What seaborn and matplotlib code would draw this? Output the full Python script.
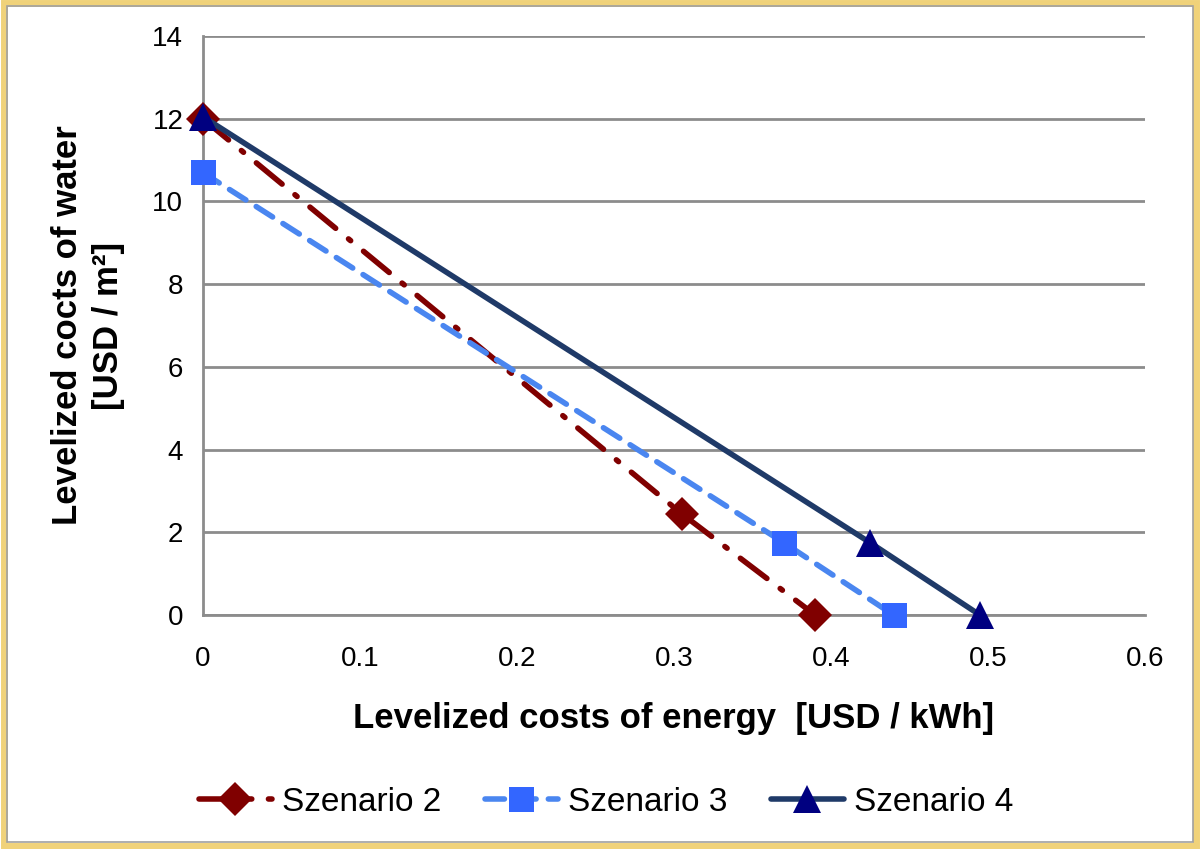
import numpy as np
import pandas as pd
import seaborn as sns
import matplotlib
matplotlib.use("Agg")
import matplotlib.pyplot as plt
from matplotlib.patches import Rectangle
from matplotlib import font_manager

# data
energy_s2 = [0.0, 0.305, 0.39]
water_s2 = [12.0, 2.45, 0.0]
energy_s3 = [0.0, 0.37, 0.44]
water_s3 = [10.7, 1.75, 0.0]
energy_s4 = [0.0, 0.425, 0.495]
water_s4 = [12.05, 1.75, 0.0]
labels = ["Szenario 2", "Szenario 3", "Szenario 4"]

x_ticks = [0, 0.1, 0.2, 0.3, 0.4, 0.5, 0.6]
y_ticks = [0, 2, 4, 6, 8, 10, 12, 14]

sns.set_theme(style="white")
plt.rcParams['font.family'] = ['Liberation Sans', 'DejaVu Sans']
plt.rcParams['text.color'] = 'black'
plt.rcParams['axes.labelcolor'] = 'black'

# narrow font for the legend if it is there
names = {f.name for f in font_manager.fontManager.ttflist}
if 'Liberation Sans Narrow' in names:
    leg_font = dict(family=['Liberation Sans Narrow', 'DejaVu Sans'], size=26)
else:
    leg_font = dict(family=['Liberation Sans', 'DejaVu Sans'], size=24)

fig = plt.figure(figsize=(12, 8.49), dpi=100)
ax = fig.add_axes([0.169, 0.2756, 0.785, 0.682])

styles = [
    dict(color="#800000", mfc="#800000", mec="#800000", marker="D", ms=17, ls=(0, (6, 3, 0.5, 3))),
    dict(color="#4a86f0", mfc="#3366ff", mec="#3366ff", marker="s", ms=18, ls=(0, (3.5, 2.2))),
    dict(color="#1f3a68", mfc="#000080", mec="#000080", marker="^", ms=20, ls="-"),
]
series = [(energy_s2, water_s2), (energy_s3, water_s3), (energy_s4, water_s4)]

for (xs, ys), lab, st in zip(series, labels, styles):
    df = pd.DataFrame({"energy": xs, "water": ys})
    sns.lineplot(data=df, x="energy", y="water", ax=ax, label=lab, color=st["color"],
                 linewidth=4, linestyle=st["ls"], marker=st["marker"], markersize=st["ms"],
                 markerfacecolor=st["mfc"], markeredgecolor=st["mec"], markeredgewidth=0,
                 dash_capstyle="round", clip_on=False, zorder=3, sort=False)

ax.set_xlim(0, 0.6)
ax.set_ylim(0, 14)
ax.set_xticks(x_ticks)
ax.set_xticklabels(["0", "0.1", "0.2", "0.3", "0.4", "0.5", "0.6"])
ax.set_yticks(y_ticks)
ax.yaxis.grid(True, color="#8c8c8c", linewidth=2)
ax.xaxis.grid(False)
ax.set_axisbelow(True)
for s in ["top", "right"]:
    ax.spines[s].set_visible(False)
for s in ["left", "bottom"]:
    ax.spines[s].set_color("#8c8c8c")
    ax.spines[s].set_linewidth(2)
ax.tick_params(axis="both", which="major", labelsize=20, colors="#8c8c8c",
               labelcolor="black", length=8, width=2, direction="out")
ax.tick_params(axis="x", pad=14)
ax.tick_params(axis="y", pad=6)

ax.set_xlabel("Levelized costs of energy  [USD / kWh]", fontsize=25, fontweight="bold", labelpad=22)
ax.set_ylabel("Levelized cocts of water\n[USD / m²]", fontsize=25, fontweight="bold", labelpad=20,
              linespacing=1.3)

ax.legend(loc="upper center", bbox_to_anchor=(0.428, -0.245), ncol=3, frameon=False,
          prop=leg_font, handlelength=2.2, columnspacing=1.3, handletextpad=0.3)

# golden frame around figure
fig.patches.append(Rectangle((0.003, 0.004), 0.994, 0.992, transform=fig.transFigure,
                             fill=False, edgecolor="#f0d27a", linewidth=5))
fig.patches.append(Rectangle((0.006, 0.008), 0.988, 0.985, transform=fig.transFigure,
                             fill=False, edgecolor="#a0a0a0", linewidth=1.2))

fig.savefig("out.png", dpi=100)
